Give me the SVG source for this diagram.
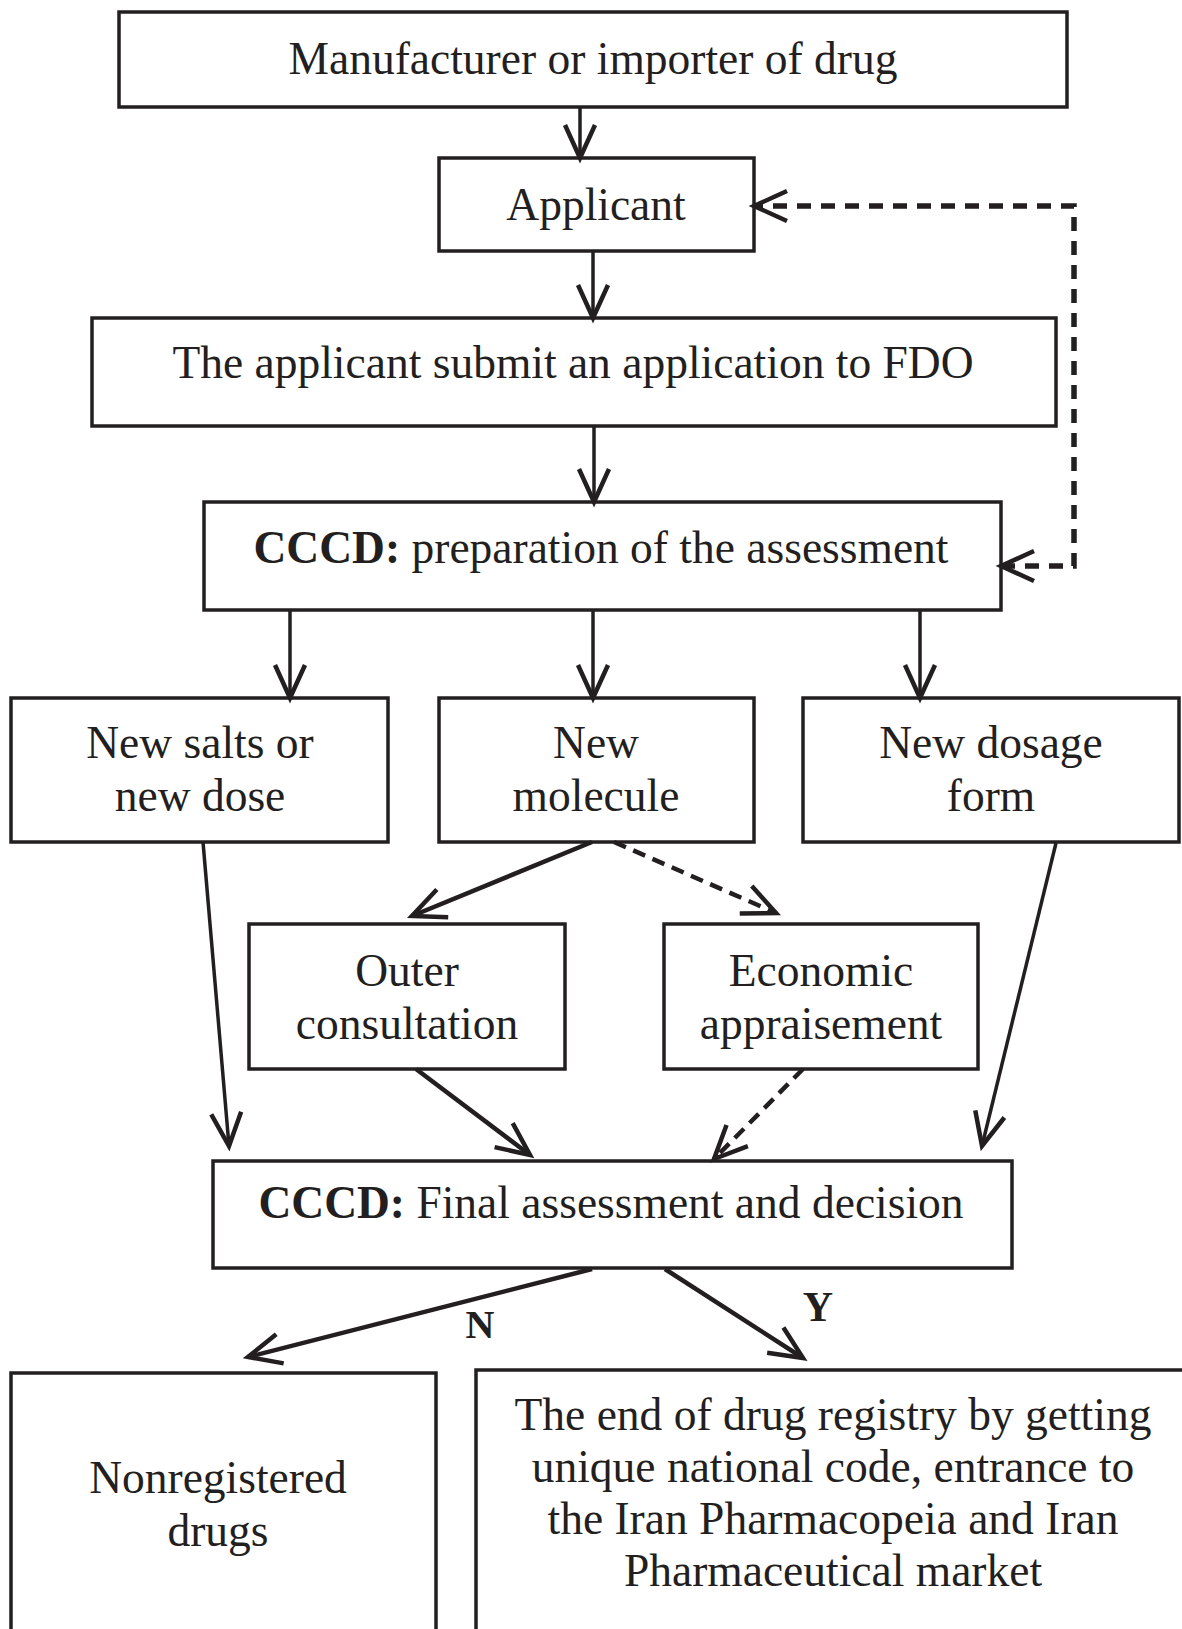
<svg xmlns="http://www.w3.org/2000/svg" width="1182" height="1629" viewBox="0 0 1182 1629">
<style>
.box{fill:#fff;stroke:#231f20;stroke-width:3.5}
.t{font-family:"Liberation Serif","Times New Roman",serif;font-size:45.5px;text-anchor:middle;fill:#231f20}
.b{font-weight:bold}
.c{fill:none;stroke:#231f20;stroke-width:3.5}
.cw{fill:none;stroke:#231f20;stroke-width:4.5}
.d{fill:none;stroke:#231f20;stroke-width:5.5;stroke-dasharray:14 10}
.dd{fill:none;stroke:#231f20;stroke-width:4.5;stroke-dasharray:13 8}
.lbl{font-family:"Liberation Serif","Times New Roman",serif;font-weight:bold;fill:#231f20;text-anchor:middle}
</style>
<defs>
<marker id="ah" markerUnits="userSpaceOnUse" markerWidth="50" markerHeight="50" viewBox="-40 -25 50 50" refX="0" refY="0" orient="auto-start-reverse" overflow="visible">
<path d="M-33,-15 L0,0 L-33,15" fill="none" stroke="#231f20" stroke-width="4.5" stroke-dasharray="none" stroke-linejoin="miter"/>
</marker>
</defs>
<g id="n1"><rect class="box" x="119" y="12" width="948" height="95"/><text class="t" x="593" y="74">Manufacturer or importer of drug</text></g>
<g id="n2"><rect class="box" x="439" y="158" width="315" height="93"/><text class="t" x="596" y="220">Applicant</text></g>
<g id="n3"><rect class="box" x="92" y="318" width="964" height="108"/><text class="t" x="573" y="378">The applicant submit an application to FDO</text></g>
<g id="n4"><rect class="box" x="204" y="502" width="797" height="108"/><text class="t" x="601" y="563"><tspan class="b">CCCD:</tspan> preparation of the assessment</text></g>
<g id="n5"><rect class="box" x="11" y="698" width="377" height="144"/><text class="t" x="200" y="758">New salts or</text><text class="t" x="200" y="811">new dose</text></g>
<g id="n6"><rect class="box" x="439" y="698" width="315" height="144"/><text class="t" x="596" y="758">New</text><text class="t" x="596" y="811">molecule</text></g>
<g id="n7"><rect class="box" x="803" y="698" width="376" height="144"/><text class="t" x="991" y="758">New dosage</text><text class="t" x="991" y="811">form</text></g>
<g id="n8"><rect class="box" x="249" y="924" width="316" height="145"/><text class="t" x="407" y="986">Outer</text><text class="t" x="407" y="1039">consultation</text></g>
<g id="n9"><rect class="box" x="664" y="924" width="314" height="145"/><text class="t" x="821" y="986">Economic</text><text class="t" x="821" y="1039">appraisement</text></g>
<g id="n10"><rect class="box" x="213" y="1161" width="799" height="107"/><text class="t" x="611" y="1218"><tspan class="b">CCCD:</tspan> Final assessment and decision</text></g>
<g id="n11"><rect class="box" x="11" y="1373" width="425" height="280"/><text class="t" x="218" y="1493">Nonregistered</text><text class="t" x="218" y="1546">drugs</text></g>
<g id="n12"><rect class="box" x="476" y="1370" width="720" height="280"/><text class="t" x="833" y="1430">The end of drug registry by getting</text><text class="t" x="833" y="1482">unique national code, entrance to</text><text class="t" x="833" y="1534">the Iran Pharmacopeia and Iran</text><text class="t" x="833" y="1586">Pharmaceutical market</text></g>
<g id="connectors">
<line class="c" x1="580" y1="107" x2="580" y2="158" marker-end="url(#ah)"/>
<line class="c" x1="593" y1="251" x2="593" y2="318" marker-end="url(#ah)"/>
<line class="c" x1="594" y1="426" x2="594" y2="502" marker-end="url(#ah)"/>
<line class="c" x1="290" y1="610" x2="290" y2="698" marker-end="url(#ah)"/>
<line class="c" x1="593" y1="610" x2="593" y2="698" marker-end="url(#ah)"/>
<line class="c" x1="920" y1="610" x2="920" y2="698" marker-end="url(#ah)"/>
<path class="d" d="M1001,566 H1074 V206 H754" marker-start="url(#ah)" marker-end="url(#ah)"/>
<line class="c" x1="203" y1="842" x2="229" y2="1146" marker-end="url(#ah)"/>
<line class="c" x1="1056" y1="843" x2="982" y2="1146" marker-end="url(#ah)"/>
<line class="cw" x1="592" y1="842" x2="412" y2="916" marker-end="url(#ah)"/>
<line class="dd" x1="614" y1="842" x2="776" y2="913" marker-end="url(#ah)"/>
<line class="cw" x1="416" y1="1069" x2="530" y2="1155" marker-end="url(#ah)"/>
<line class="dd" x1="803" y1="1069" x2="714" y2="1159" marker-end="url(#ah)"/>
<line class="cw" x1="592" y1="1269" x2="248" y2="1357" marker-end="url(#ah)"/>
<line class="cw" x1="665" y1="1269" x2="803" y2="1358" marker-end="url(#ah)"/>
<text class="lbl" x="480" y="1338" font-size="40">N</text>
<text class="lbl" x="818" y="1321" font-size="42">Y</text>
</g>
</svg>
